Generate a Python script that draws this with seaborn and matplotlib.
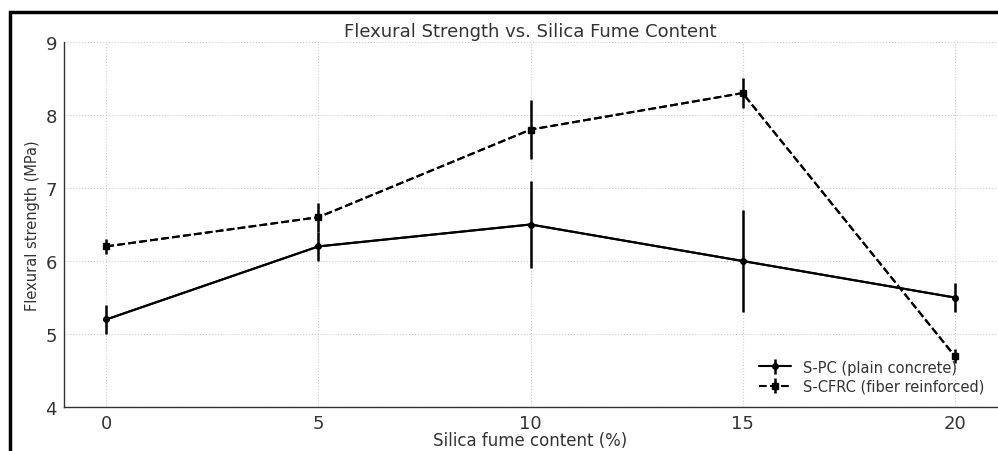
import numpy as np
import pandas as pd
import matplotlib
matplotlib.use("Agg")
import matplotlib.pyplot as plt
from matplotlib.patches import Rectangle
import seaborn as sns

# silica fume content (%)
silica = [0, 5, 10, 15, 20]
# plain concrete
spc_mean = [5.2, 6.2, 6.5, 6.0, 5.5]
spc_err = [0.2, 0.2, 0.6, 0.7, 0.2]
# fiber reinforced
scfrc_mean = [6.2, 6.6, 7.8, 8.3, 4.7]
scfrc_err = [0.1, 0.2, 0.4, 0.2, 0.1]

sns.set_theme(style="whitegrid")
plt.rcParams['font.family'] = ['DejaVu Sans']
plt.rcParams['text.color'] = '#333333'
plt.rcParams['axes.labelcolor'] = '#333333'
plt.rcParams['xtick.color'] = '#333333'
plt.rcParams['ytick.color'] = '#333333'

df = pd.DataFrame({'silica': silica, 'spc': spc_mean, 'scfrc': scfrc_mean})

fig = plt.figure(figsize=(9.98, 4.52), dpi=100)
ax = fig.add_axes([0.0641, 0.0973, 0.935, 0.8076])

sns.lineplot(data=df, x='silica', y='spc', color='black', lw=1.5, ax=ax, legend=False)
sns.lineplot(data=df, x='silica', y='scfrc', color='black', lw=1.5, ls='--', ax=ax, legend=False)

ax.errorbar(silica, spc_mean, yerr=spc_err, fmt='o', ms=4, ls='-', lw=1.5,
            color='black', elinewidth=1.8, capsize=0, label='S-PC (plain concrete)')
ax.errorbar(silica, scfrc_mean, yerr=scfrc_err, fmt='s', ms=5, ls='--', lw=1.5,
            color='black', elinewidth=1.8, capsize=0, label='S-CFRC (fiber reinforced)')

ax.set_xlim(-1, 21)
ax.set_ylim(4, 9)
ax.set_xticks(silica)
ax.set_yticks([4, 5, 6, 7, 8, 9])
ax.tick_params(axis='both', labelsize=13, direction='in', length=3, width=0.8, pad=5)
ax.set_xlabel('Silica fume content (%)', fontsize=12, labelpad=-1)
ax.set_ylabel('Flexural strength (MPa)', fontsize=10.5, labelpad=4)
ax.set_title('Flexural Strength vs. Silica Fume Content', fontsize=13, pad=4)

ax.grid(True, color='#cccccc', ls=':', lw=0.8)
for side in ['top', 'right']:
    ax.spines[side].set_visible(False)
for side in ['left', 'bottom']:
    ax.spines[side].set_color('#333333')
    ax.spines[side].set_linewidth(1.0)

ax.legend(loc='lower right', frameon=False, fontsize=10.5, handlelength=2.2,
          borderaxespad=0.5, labelspacing=0.3)

# outer frame from the screenshot
fig.patches.append(Rectangle((10 / 998, -0.5), 2.0, 1.5 - 13 / 452, transform=fig.transFigure,
                             fill=False, ec='black', lw=2.5, clip_on=False))

fig.savefig('out.png', dpi=100)
